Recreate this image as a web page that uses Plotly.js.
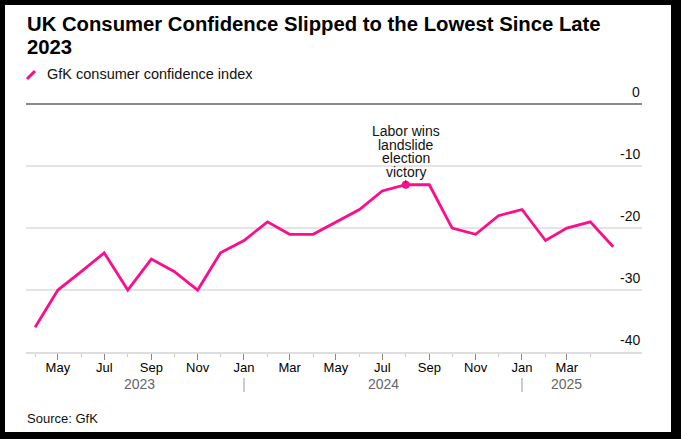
<!DOCTYPE html>
<html>
<head>
<meta charset="utf-8">
<script src="https://cdn.plot.ly/plotly-3.0.1.min.js"></script>
<style>
  html, body { margin: 0; padding: 0; background: #000; width: 681px; height: 439px; overflow: hidden; }
  #chart { position: absolute; left: 5px; top: 5px; width: 666px; height: 427px; background: #fff; }
</style>
</head>
<body>
<div id="chart"></div>
<script>
// ---- data ----
const months = [
  '2023-04-01','2023-05-01','2023-06-01','2023-07-01','2023-08-01','2023-09-01',
  '2023-10-01','2023-11-01','2023-12-01','2024-01-01','2024-02-01','2024-03-01',
  '2024-04-01','2024-05-01','2024-06-01','2024-07-01','2024-08-01','2024-09-01',
  '2024-10-01','2024-11-01','2024-12-01','2025-01-01','2025-02-01','2025-03-01',
  '2025-04-01','2025-05-01'
];
const confidence = [
  -36, -30, -27, -24, -30, -25,
  -27, -30, -24, -22, -19, -21,
  -21, -19, -17, -14, -13, -13,
  -20, -21, -18, -17, -22, -20,
  -19, -23
];
const seriesName = 'GfK consumer confidence index';
const titleLines = ['UK Consumer Confidence Slipped to the Lowest Since Late', '2023'];
const eventIndex = 16;
const eventLines = ['Labor wins', 'landslide', 'election', 'victory'];

const tickMonths = ['2023-05-01','2023-07-01','2023-09-01','2023-11-01','2024-01-01','2024-03-01',
                    '2024-05-01','2024-07-01','2024-09-01','2024-11-01','2025-01-01','2025-03-01'];
const tickLabels = ['May','Jul','Sep','Nov','Jan','Mar','May','Jul','Sep','Nov','Jan','Mar'];
const minorTickMonths = ['2023-04-01','2023-06-01','2023-08-01','2023-10-01','2023-12-01','2024-02-01',
                         '2024-04-01','2024-06-01','2024-08-01','2024-10-01','2024-12-01','2025-02-01','2025-04-01'];
const yearLabels = ['2023', '2024', '2025'];
const yearPositions = ['2023-08-16', '2024-07-03', '2025-03-01'];
const yearBreaks = ['2024-01-01', '2025-01-01'];
const yTickValues = [0, -10, -20, -30, -40];
const yTickLabels = ['0', '-10', '-20', '-30', '-40'];

// ---- styling ----
const PINK = '#fb0d8c';
const FONT = 'Liberation Sans, Arial, Helvetica, sans-serif';

const traces = [
  {
    x: months, y: confidence, type: 'scatter', mode: 'lines',
    line: { color: PINK, width: 2.8 }, name: seriesName, hoverinfo: 'skip'
  },
  {
    x: [months[eventIndex]], y: [confidence[eventIndex]], type: 'scatter', mode: 'markers',
    marker: { color: PINK, size: 8 }, hoverinfo: 'skip'
  }
];

const annotations = [];
// title (two lines, tight leading)
const titleShifts = [74, 51];
titleLines.forEach((t, i) => {
  annotations.push({
    xref: 'paper', x: 0, xanchor: 'left', xshift: -1, yref: 'paper', y: 1, yanchor: 'middle', yshift: titleShifts[i],
    text: '<b>' + t + '</b>', showarrow: false, font: { family: FONT, size: 20.3, color: '#000' }
  });
});
// y tick labels above grid lines
yTickValues.forEach((v, i) => {
  annotations.push({
    xref: 'paper', x: 1, xanchor: 'right', yref: 'y', y: v, yanchor: 'bottom', yshift: 2,
    text: yTickLabels[i], showarrow: false, font: { family: FONT, size: 14, color: '#111' }
  });
});
// year row
yearLabels.forEach((t, i) => {
  annotations.push({
    xref: 'x', x: yearPositions[i], yref: 'paper', y: 0, yanchor: 'middle', yshift: -32,
    text: t, showarrow: false, font: { family: FONT, size: 14, color: '#666' }
  });
});
// event annotation
const lineOffsets = [53.8, 40.2, 26.6];
eventLines.forEach((t, i) => {
  if (i < 3) {
    annotations.push({
      xref: 'x', x: months[eventIndex], yref: 'y', y: confidence[eventIndex],
      yanchor: 'middle', yshift: lineOffsets[i], borderpad: 0,
      text: t, showarrow: false, font: { family: FONT, size: 14, color: '#111' }
    });
  } else {
    annotations.push({
      xref: 'x', x: months[eventIndex], yref: 'y', y: confidence[eventIndex],
      ax: 0, ay: -13, axref: 'pixel', ayref: 'pixel', borderpad: 0,
      text: t, showarrow: true, arrowhead: 0, arrowwidth: 1, arrowcolor: '#333', standoff: 2,
      font: { family: FONT, size: 14, color: '#111' }
    });
  }
});
// legend text
annotations.push({
  xref: 'paper', x: 0, xanchor: 'left', xshift: 19, yref: 'paper', y: 1, yanchor: 'middle', yshift: 24,
  text: seriesName, showarrow: false, font: { family: FONT, size: 14.5, color: '#111' }
});
// source
annotations.push({
  xref: 'paper', x: 0, xanchor: 'left', xshift: -1, yref: 'paper', y: 0, yanchor: 'middle', yshift: -66,
  text: 'Source: GfK', showarrow: false, font: { family: FONT, size: 13, color: '#111' }
});

const shapes = [
  // legend swatch
  { type: 'line', xref: 'paper', yref: 'paper', x0: 0.0016, y0: 1.0748, x1: 0.0146, y1: 1.1063,
    line: { color: PINK, width: 3 } }
];
yearBreaks.forEach(d => {
  shapes.push({ type: 'line', xref: 'x', yref: 'paper', x0: d, x1: d, y0: -0.1024, y1: -0.1575,
    line: { color: '#999', width: 1 } });
});

const layout = {
  width: 666, height: 427,
  margin: { l: 21, r: 29, t: 93, b: 80 },
  paper_bgcolor: '#fff', plot_bgcolor: '#fff',
  showlegend: false,
  font: { family: FONT, color: '#111' },
  xaxis: {
    type: 'date', range: ['2023-03-20', '2025-06-08'],
    showgrid: false, zeroline: false,
    showline: true, linecolor: '#dedede', linewidth: 2,
    tickmode: 'array', tickvals: tickMonths, ticktext: tickLabels,
    ticks: 'outside', ticklen: 6, tickcolor: '#888', tickwidth: 1,
    ticklabelstandoff: -4,
    tickfont: { family: FONT, size: 13, color: '#000' },
    minor: { tickmode: 'array', tickvals: minorTickMonths, ticks: 'outside', ticklen: 3,
             tickcolor: '#ccc', tickwidth: 1, showgrid: false },
    fixedrange: true
  },
  yaxis: {
    range: [-40, 1], tickmode: 'array', tickvals: [-10, -20, -30],
    showticklabels: false, ticks: '',
    showgrid: true, gridcolor: '#e4e4e4', gridwidth: 2,
    zeroline: true, zerolinecolor: '#8a8a8a', zerolinewidth: 2,
    showline: false, fixedrange: true
  },
  annotations: annotations,
  shapes: shapes
};

Plotly.newPlot('chart', traces, layout, { displayModeBar: false, staticPlot: true });
</script>
</body>
</html>
